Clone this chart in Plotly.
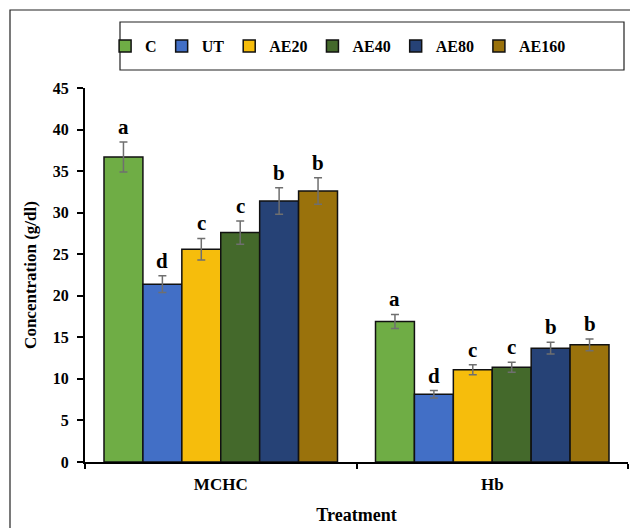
import plotly.graph_objects as go

# Measured parameters and treatment groups
parameters = ["MCHC", "Hb"]
groups = ["C", "UT", "AE20", "AE40", "AE80", "AE160"]

# Mean concentration (g/dl) per group, for MCHC and Hb
means = {
    "C":     [36.7, 16.9],
    "UT":    [21.4, 8.15],
    "AE20":  [25.6, 11.1],
    "AE40":  [27.6, 11.4],
    "AE80":  [31.4, 13.7],
    "AE160": [32.6, 14.1],
}
errors = {
    "C":     [1.8, 0.85],
    "UT":    [1.0, 0.45],
    "AE20":  [1.3, 0.6],
    "AE40":  [1.4, 0.6],
    "AE80":  [1.6, 0.7],
    "AE160": [1.6, 0.7],
}
# Significance letters
letters = {
    "C":     ["a", "a"],
    "UT":    ["d", "d"],
    "AE20":  ["c", "c"],
    "AE40":  ["c", "c"],
    "AE80":  ["b", "b"],
    "AE160": ["b", "b"],
}
y_ticks = [0, 5, 10, 15, 20, 25, 30, 35, 40, 45]

colors = {
    "C": "#6FAD45",
    "UT": "#426FC6",
    "AE20": "#F6BD0C",
    "AE40": "#44692B",
    "AE80": "#264276",
    "AE160": "#9A720C",
}

FONT = "Liberation Serif"
BARGAP = 0.14

fig = go.Figure()
for g in groups:
    fig.add_trace(go.Bar(
        name=g,
        x=parameters,
        y=means[g],
        marker=dict(color=colors[g], line=dict(color="#111111", width=1.5)),
        error_y=dict(type="data", array=errors[g], color="#6f6f6f",
                     thickness=1.5, width=4),
    ))

# Letters placed above each error bar
bar_w = (1 - BARGAP) / len(groups)
annotations = []
for gi, g in enumerate(groups):
    for pi, p in enumerate(parameters):
        xpos = pi + (gi - (len(groups) - 1) / 2) * bar_w
        annotations.append(dict(
            x=xpos, y=means[g][pi] + errors[g][pi], xref="x", yref="y",
            text=f"<b>{letters[g][pi]}</b>", showarrow=False,
            yanchor="bottom", yshift=1,
            font=dict(family=FONT, size=21, color="#000000"),
        ))

fig.update_layout(
    width=630, height=528,
    margin=dict(l=85, r=2, t=88, b=66),
    paper_bgcolor="white", plot_bgcolor="white",
    barmode="group", bargap=BARGAP, bargroupgap=0,
    font=dict(family=FONT, size=16, color="#000000"),
    showlegend=True,
    legend=dict(
        orientation="h", x=0.037, xanchor="left", y=1.112, yanchor="middle",
        font=dict(family=FONT, size=16, color="#000000", weight="bold"),
        bgcolor="rgba(0,0,0,0)", borderwidth=0,
        itemwidth=30,
    ),
    annotations=annotations,
    shapes=[
        # legend frame
        dict(type="rect", xref="paper", yref="paper",
             x0=(120 - 85) / 543, x1=(624 - 85) / 543,
             y0=(462 - 70) / 374, y1=(462 - 22) / 374,
             line=dict(color="#222222", width=1.2), fillcolor="rgba(0,0,0,0)"),
        # outer chart frame
        dict(type="rect", xref="paper", yref="paper",
             x0=(10 - 85) / 543, x1=1.02,
             y0=-0.3, y1=(462 - 10) / 374,
             line=dict(color="#222222", width=1.2), fillcolor="rgba(0,0,0,0)"),
    ],
)

fig.update_yaxes(
    range=[0, 45], tickvals=y_ticks, ticktext=[str(t) for t in y_ticks],
    showgrid=False, zeroline=False,
    showline=True, linecolor="#000000", linewidth=2,
    ticks="outside", ticklen=6, tickwidth=2, tickcolor="#000000",
    ticklabelstandoff=5,
    tickfont=dict(family=FONT, size=16, weight="bold"),
    title=dict(text="<b>Concentration (g/dl)</b>", standoff=12,
               font=dict(family=FONT, size=17)),
)
fig.update_xaxes(
    showgrid=False, zeroline=False,
    showline=True, linecolor="#000000", linewidth=2,
    ticks="outside", tickson="boundaries", ticklen=5, tickwidth=2,
    tickcolor="#000000", ticklabelstandoff=6,
    tickfont=dict(family=FONT, size=17, weight="bold"),
    title=dict(text="<b>Treatment</b>", standoff=15,
               font=dict(family=FONT, size=18)),
)

fig.write_html("out.html")
